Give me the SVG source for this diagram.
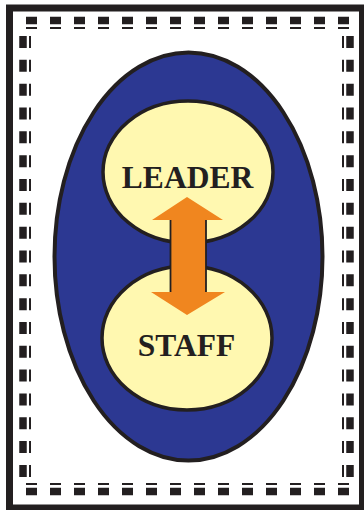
<svg xmlns="http://www.w3.org/2000/svg" width="364" height="510" viewBox="0 0 364 510">
<style>
.frame{fill:#ffffff;stroke:#231f20;stroke-width:7}
.hd{stroke:#231f20;stroke-dasharray:11 13;fill:none}
.vd{stroke:#231f20;stroke-dasharray:12 11.83;fill:none}
.thick{stroke-width:7.5}
.thin{stroke-width:2}
.node{fill:#fff8b0;stroke:#231f20;stroke-width:3.5}
.lbl{font-family:"Liberation Serif","Times New Roman",serif;font-weight:bold;font-size:31.5px;fill:#231f20;text-anchor:middle}
</style>
<rect width="364" height="510" fill="#ffffff"/>
<g id="border">
<rect class="frame" x="9.5" y="8" width="353" height="500"/>
<line class="hd thick" x1="26" y1="20.5" x2="350" y2="20.5"/>
<line class="hd thin" x1="26" y1="28" x2="350" y2="28"/>
<line class="hd thin" x1="26" y1="484" x2="350" y2="484"/>
<line class="hd thick" x1="26" y1="491.5" x2="350" y2="491.5"/>
<line class="vd thick" x1="23" y1="36" x2="23" y2="478"/>
<line class="vd thin" x1="30" y1="36" x2="30" y2="478"/>
<line class="vd thin" x1="343" y1="36" x2="343" y2="478"/>
<line class="vd thick" x1="350" y1="36" x2="350" y2="478"/>
</g>
<g id="team">
<ellipse cx="188.5" cy="256.5" rx="134" ry="204" fill="#2c3892" stroke="#231f20" stroke-width="4"/>
</g>
<g id="leader">
<ellipse class="node" cx="188" cy="172" rx="85" ry="71"/>
<text class="lbl" x="187.5" y="187.5">LEADER</text>
</g>
<g id="staff">
<ellipse class="node" cx="187" cy="338" rx="85" ry="72"/>
<text class="lbl" x="186.5" y="356">STAFF</text>
</g>
<g id="connectors">
<polygon points="187,197 223,220 206,220 206,292 225,292 187,315 151,292 170,292 170,220 152,220" fill="#f0861f"/>
<line x1="170.5" y1="220" x2="170.5" y2="292" stroke="#231f20" stroke-width="1.8"/>
<line x1="206" y1="220" x2="206" y2="292" stroke="#231f20" stroke-width="1.8"/>
</g>
</svg>
